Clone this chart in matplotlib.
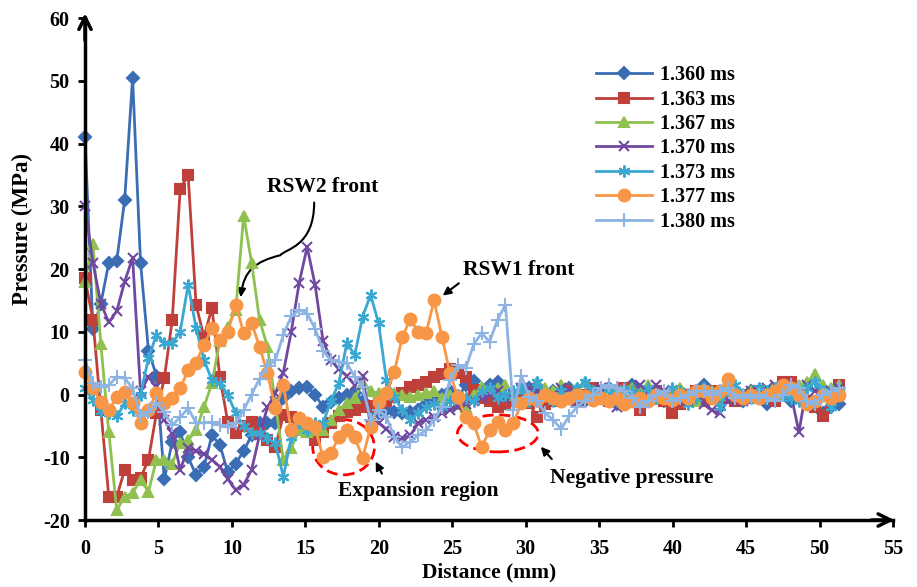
import numpy as np
import matplotlib
matplotlib.use('Agg')
import matplotlib.pyplot as plt
from matplotlib.patches import Ellipse, FancyArrowPatch
from matplotlib.path import Path

plt.rcParams['font.family'] = 'Liberation Serif'
plt.rcParams['font.weight'] = 'bold'
plt.rcParams['axes.unicode_minus'] = False

# distance along the tube (mm), one sample every 0.54 mm
dist = np.round(np.arange(96) * 0.54, 2)

p1360 = [41, 10.5, 14.5, 21, 21.3, 31, 50.5, 21, 7, 3,
         -13.5, -7.5, -6, -10, -12.8, -11.5, -6.5, -8, -12.4, -11,
         -9, -6.5, -4.5, -4.5, -4.5, -0.5, 0.5, 1, 1.2, 0,
         -2, -1.2, -0.5, 0, 0.2, -1, -2.5, -3, -2.5, -2.8,
         -3, -2.8, -2.5, -1.5, -1, 0, 0.5, -0.5, 1.5, 2.2,
         0.5, 1.5, 2, -0.5, -1, 0.5, 1, 0, -1, 0.5,
         -0.5, 1, 0, -1, -0.5, 0.5, 1, -1.5, 0, 1.5,
         -0.5, 0.5, -0.5, -1, 0, 0.5, -1, 0.5, 1.5, 0,
         -0.5, 1, 0, -1, 0.5, -0.5, -1.5, 0, 1, -1,
         0.5, -1, -1.5, -3, -2, -1.5]
p1363 = [18.5, 11.9, -2.5, -16.3, -16.3, -12, -13.6, -13.3, -10.4, -3,
         2.6, 11.9, 32.8, 35, 14.3, 9.2, 13.8, 2.8, -4.4, -6.1,
         -5, -4.4, -6.1, -7.3, -8.4, -3.3, -3.6, -4.5, -6, -7.3,
         -6, -4.6, -3.5, -2.8, -2.5, -2, -1.8, -1.4, -1, -0.4,
         0.3, 1.2, 1.5, 2, 2.8, 3.2, 4, 3.5, 2.8, 0.7,
         -0.5, -1, -2, -1.5, -0.9, -1, -1.4, -3.6, -1.5, -1,
         -0.5, 0.5, -1, 0, 1, -0.5, -1, 0.5, 1, -1,
         -2.5, -0.5, 0.5, -1, -3, -1.5, 0, 0.5, -1, 0.5,
         0, -0.5, -1, 0, -0.5, 0.5, 0, -1, 2, 2,
         0.5, -1, -2, -3.5, 0, 1.5]
p1367 = [18, 24, 8, -6, -18.4, -16.3, -15.7, -13.6, -15.5, -10.4,
         -10.4, -11, -7.7, -7.3, -5.7, -2, 1.8, 8.6, 10.8, 13.5,
         28.5, 21, 11.9, 7.6, -1.4, -10.4, -8.5, -5.7, -6, -5.7,
         -5.7, -4, -2.5, -1.4, -0.5, 1.8, 0.5, 0.2, 0.2, 0.2,
         0, -0.4, 0, 0.2, 0.5, -0.5, 0, -1.5, -2, 0,
         1.2, 0.5, 1, 1.5, 0, 1, 0.5, 2, 1, 0.5,
         1.5, 0, 1, 2, 0.5, 0, 1, 0.5, -0.5, 1,
         0.5, 1.5, 0, -0.5, 0.5, 1, 0, -1, 1, 0.5,
         0, 1.5, 1, 0, 0.5, -0.5, 0.5, 1, 0, 0.5,
         1.5, 2, 3.2, 1.5, 1, 1.5]
p1370 = [30, 21, 14.5, 11.5, 13.3, 18, 21.8, 0.5, 2.8, 1.2,
         -4, -6.2, -12, -8.5, -9, -9.5, -10.4, -11.5, -13.5, -15.2,
         -14.4, -12, -6.5, -2, 0.2, 3.5, 10, 17.8, 23.5, 17.5,
         8.6, 5.5, 4, 3, 1.5, 3, -5, -4.5, -5.5, -6.8,
         -7, -6.5, -4.6, -4, -3.6, -3, -2.5, -2, -1.5, -1,
         -0.5, 0, 0.5, -0.5, 0, 1, 1, 0.5, -0.5, 0,
         1, 0.5, -1, -0.5, 0.5, 1, -1, -2, -1.5, 0,
         1.5, 0.5, 1.5, 0.5, -0.5, 0, -1, 0.5, -1.5, -2.5,
         -3, -1, 0, -1, 0.5, 0, 1, 1.5, 0.5, 0,
         -6, 1.5, 0.5, 0, 0.5, 1]
p1373 = [1, -0.9, -2.7, -3, -3.5, -1.4, -2.5, 0, 5.8, 9.5,
         8.2, 8.2, 10, 17.5, 10.6, 5.5, 2.3, 1.8, 0, -3,
         -5, -6.1, -6.2, -7, -7.8, -13.1, -6.8, -4.6, -5.7, -4.6,
         -4.6, -1, 1.8, 8.2, 6.3, 12.4, 15.9, 11.4, 2.3, -0.4,
         -2.5, -4, -3, -2, -1.5, -2, -1, 0, -0.5, -1,
         0.5, 1, -0.5, 0, 0.5, 1, -1, 2, 0, -1,
         0.5, -0.5, 1, 2, 0.5, -0.5, 1, -1, 1, 0.5,
         0, 1, -0.5, 0, 1, 0.5, -1.5, -0.5, 1, 0,
         -2, 0.5, 1.5, 0, -0.5, 1, 0.5, 1, 0, -0.5,
         -1, 1, 2, 0.5, -2, 0.5]
p1377 = [3.6, 1, -1.2, -2.5, -0.4, 0.4, -1.4, -4.6, -2.5, 0.2,
         -1.4, -0.6, 1, 3.9, 5.1, 7.9, 10.6, 8.7, 10, 14.3,
         9.8, 11.4, 7.6, 3.4, -2.2, 1.5, -5.7, -3.8, -4.6, -5.2,
         -10, -9.3, -6.8, -5.7, -6.8, -10.1, -5.2, -1.2, 0.2, 3.6,
         9.2, 12, 10, 9.8, 15, 9.2, 3.4, -0.4, -3.6, -4.6,
         -8.4, -5.7, -4.4, -5.7, -4.6, -1.4, -0.5, -0.8, 0, -0.5,
         -1, -0.5, 0, -0.3, -0.8, -0.5, -1, -0.5, -1.5, -1,
         -0.5, -1, 0, -0.5, -0.8, 0, -0.5, 0.5, 0.5, -0.5,
         0.5, 2.5, 0, -0.5, 0, -0.5, 0, 0.5, 1.5, 1,
         0, -1.5, -1, 0, -0.5, 0]
p1380 = [5.5, 1.8, 1.2, 1.5, 2.8, 2.6, 1, -3.5, -2.8, -1.4,
         -2.8, -4.9, -3.6, -2.2, -4.5, -4.5, -4.4, -4.8, -5.2, -4.5,
         -2.5, 0, 2.5, 4.5, 5.5, 9.5, 12.5, 13.5, 12.9, 10.5,
         7, 5.5, 5.2, 5, 2.8, 1.2, -4, -2.5, -3.6, -6.8,
         -8.4, -7.5, -6.5, -5.7, -4.1, -2, 2.3, 4.7, 4.2, 8,
         9.8, 8.4, 11.9, 14.3, -2.5, 3, -0.4, -1, -3, -4,
         -5.5, -3.5, -2, -1, 0, 1, 1.5, 1, 0.5, -0.5,
         -2, -1, 0, 0.5, -1, -0.5, 0, 0.5, 0.5, 0,
         0.5, 1, -0.5, 0, -0.5, 0, -0.5, -1, 0, 1.5,
         1, -1, -1.5, 0, 0.5, 1]

labels = ['1.360 ms', '1.363 ms', '1.367 ms', '1.370 ms', '1.373 ms', '1.377 ms', '1.380 ms']
series = [p1360, p1363, p1367, p1370, p1373, p1377, p1380]

colors = ['#3b6db5', '#bf3f3a', '#8fc050', '#7048a0', '#3aa8d0', '#f79646', '#8eb4e3']
markers = ['D', 's', '^', 'x', (6, 2, 0), 'o', '+']
msizes = [6.5, 7.5, 7.5, 7.5, 8.5, 8.5, 10]

fig = plt.figure(figsize=(9.17, 5.87), dpi=100)
ax = fig.add_axes([0.0927, 0.1141, 0.8811, 0.8552])

for y, lab, c, m, ms in zip(series, labels, colors, markers, msizes):
    ax.plot(dist, y, color=c, lw=2, marker=m, ms=ms, mew=1.5,
            mfc=c, mec=c, label=lab, clip_on=False)

ax.set_xlim(0, 55)
ax.set_ylim(-20, 60)
ax.set_xticks(np.arange(0, 56, 5))
ax.set_yticks(np.arange(-20, 61, 10))
ax.tick_params(direction='out', length=5, width=2, labelsize=14.5)
ax.tick_params(axis='x', pad=9)
ax.tick_params(axis='y', pad=6)
for s in ['top', 'right']:
    ax.spines[s].set_visible(False)
for s in ['left', 'bottom']:
    ax.spines[s].set_linewidth(2.5)

# arrow heads on the axes
ax.annotate('', xy=(0, 1.015), xytext=(0, 0.95), xycoords='axes fraction',
            arrowprops=dict(arrowstyle='->', lw=2.5, color='k', mutation_scale=22))
ax.annotate('', xy=(1.005, 0), xytext=(0.97, 0), xycoords='axes fraction',
            arrowprops=dict(arrowstyle='->', lw=2.5, color='k', mutation_scale=22))

ax.set_xlabel('Distance (mm)', fontsize=15.5, fontweight='bold', labelpad=2)
ax.set_ylabel('Pressure (MPa)', fontsize=16.5, fontweight='bold')
ax.yaxis.set_label_coords(-0.064, 0.58)

leg = fig.legend(loc='upper left', bbox_to_anchor=(0.65, 0.889), frameon=False,
                 fontsize=14.5, handlelength=2.8, handletextpad=0.4,
                 labelspacing=0.22, borderpad=0, borderaxespad=0)
for t in leg.get_texts():
    t.set_fontweight('bold')

# RSW2 front with an S-shaped leader
ax.text(16.2, 33.0, 'RSW2 front', fontsize=15.5, fontweight='bold', ha='center', va='center')
verts = [(15.6, 30.6), (15.6, 23.5), (13.6, 23.2), (13.3, 22.2),
         (11.6, 21.2), (10.8, 19.8), (10.6, 15.5)]
codes = [Path.MOVETO, Path.CURVE4, Path.CURVE4, Path.CURVE4,
         Path.CURVE4, Path.CURVE4, Path.CURVE4]
ax.add_patch(FancyArrowPatch(path=Path(verts, codes), arrowstyle='-|>',
                             mutation_scale=12, lw=1.5, color='k'))

# RSW1 front
ax.text(29.5, 19.8, 'RSW1 front', fontsize=15.5, fontweight='bold', ha='center', va='center')
ax.annotate('', xy=(24.2, 15.5), xytext=(25.6, 18.0),
            arrowprops=dict(arrowstyle='-|>', lw=1.5, color='k', mutation_scale=12))

# expansion region
ax.add_patch(Ellipse((17.6, -8.4), 4.2, 8.8, fill=False, ec='red', lw=2, ls=(0, (4, 2))))
ax.text(22.7, -15.4, 'Expansion region', fontsize=15.5, fontweight='bold', ha='center', va='center')
ax.annotate('', xy=(19.7, -10.3), xytext=(20.3, -13.0),
            arrowprops=dict(arrowstyle='-|>', lw=1.5, color='k', mutation_scale=12))

# negative pressure
ax.add_patch(Ellipse((28.1, -6.2), 5.5, 5.9, fill=False, ec='red', lw=2, ls=(0, (4, 2))))
ax.text(37.2, -13.3, 'Negative pressure', fontsize=15.5, fontweight='bold', ha='center', va='center')
ax.annotate('', xy=(30.9, -8.0), xytext=(31.9, -10.6),
            arrowprops=dict(arrowstyle='-|>', lw=1.5, color='k', mutation_scale=12))

plt.savefig('out.png', dpi=100)
plt.close(fig)
